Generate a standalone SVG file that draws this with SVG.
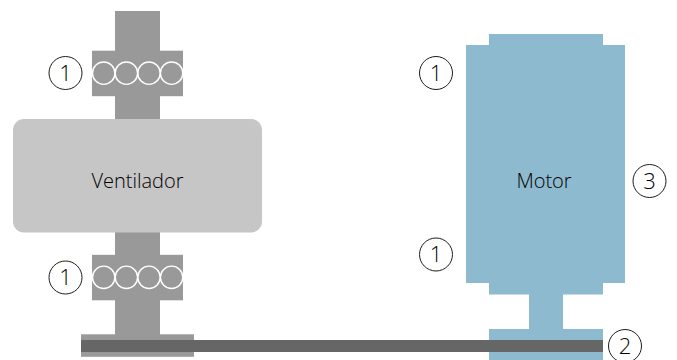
<svg xmlns="http://www.w3.org/2000/svg" width="677" height="360" viewBox="0 0 677 360">
<style>
text{font-family:"Open Sans","Noto Sans",sans-serif;font-weight:300;fill:#000000;text-anchor:middle;opacity:.99}
.lbl{font-size:20px}
.num{font-size:22px}
.g{fill:#999999}
.m{fill:#8dbace}
.ball{fill:none;stroke:#ffffff;stroke-width:1.4}
.c{fill:#ffffff;stroke:#1d1d1b;stroke-width:1}
</style>
<defs>
<g id="bearing">
<rect class="g" x="92" y="0" width="91" height="45.500"/>
<circle class="ball" cx="103.700" cy="22.500" r="11.200"/>
<circle class="ball" cx="126.400" cy="22.500" r="11.200"/>
<circle class="ball" cx="149" cy="22.500" r="11.200"/>
<circle class="ball" cx="171.600" cy="22.500" r="11.200"/>
</g>
</defs>
<g id="ventilator-shaft">
<rect class="g" x="115" y="11" width="45" height="108"/>
<rect class="g" x="115" y="232" width="45" height="103"/>
</g>
<g id="bearing-top"><use href="#bearing" y="50.700"/></g>
<g id="bearing-bottom"><use href="#bearing" y="254.800"/></g>
<g id="ventilador">
<rect x="13" y="119" width="249" height="113.500" rx="11" fill="#c6c6c6"/>
<text class="lbl" x="137.500" y="187.500">Ventilador</text>
</g>
<g id="pulley-left"><rect class="g" x="81" y="334.300" width="113" height="22.500"/></g>
<g id="motor">
<path class="m" d="M489 34H603V45H625V283H603V294.500H563V329H603V360H489V329H529V294.500H489V283H466V45H489Z"/>
<text class="lbl" x="544" y="187.500">Motor</text>
</g>
<g id="connectors"><rect x="81" y="340" width="522" height="12" fill="#666666"/></g>
<g id="callout-1a"><circle class="c" cx="65.500" cy="73" r="16.500"/><text class="num" x="65.500" y="80.500">1</text></g>
<g id="callout-1b"><circle class="c" cx="65.500" cy="277.500" r="16.500"/><text class="num" x="65.500" y="285">1</text></g>
<g id="callout-1c"><circle class="c" cx="436" cy="73" r="16.500"/><text class="num" x="436" y="80.500">1</text></g>
<g id="callout-1d"><circle class="c" cx="436" cy="254.500" r="16.500"/><text class="num" x="436" y="262">1</text></g>
<g id="callout-3"><circle class="c" cx="649.500" cy="181" r="16.500"/><text class="num" x="649.500" y="188.500">3</text></g>
<g id="callout-2"><circle class="c" cx="625" cy="346" r="16.500"/><text class="num" x="625" y="353.500">2</text></g>
</svg>
